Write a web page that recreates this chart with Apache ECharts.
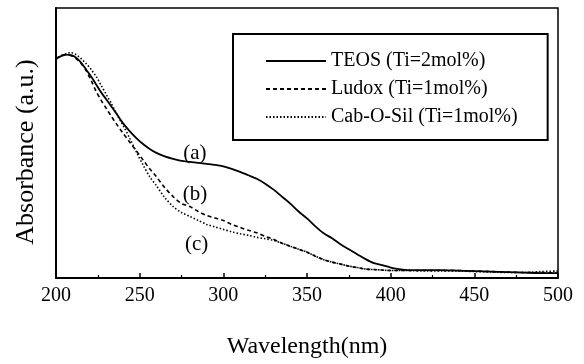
<!DOCTYPE html>
<html>
<head>
<meta charset="utf-8">
<script src="https://cdn.jsdelivr.net/npm/echarts@6/dist/echarts.min.js"></script>
<style>html,body{margin:0;padding:0;background:#fff}#c{width:584px;height:364px}</style>
</head>
<body>
<div id="c"></div>
<script>
const wavelengths = [200,203,206,209,212,215,218,221,224,227,230,233,236,240,244,248,252,256,260,265,270,275,280,285,290,295,300,305,310,315,320,325,330,335,340,345,350,355,360,365,370,375,380,385,390,395,400,405,410,420,430,440,450,460,470,480,490,500];
const teos = [221,223.5,225,224.5,222,217,210,203,195,187,180,173,166,156,148,141,135,130,126,122.5,120,118,117,116,115,114,112.5,110,107,103.5,100,95,89,82,75,67,60,52,45,40,34,29,24,19,15,13,10.5,9,8,8,8,7.5,7,6.5,6,5.5,5,5];
const ludox = [221,223.5,225,224,221,216,209,199,188,179,171,163,155.5,146,137,128,119,110,102,91,82,75,72,67,63,60.5,58,54,51,48,45.5,42,39,35,32,29,26,22,18.5,16,14,12,10.5,9,8.5,8,7.5,7.5,7.5,7.5,7.5,7.5,7,6.5,6,5.5,5.5,5];
const cabosil = [220,224,226,227,225,221,216,210,203,194,185,176,166,154,141,127,114,102,93,81,72,66,62,58,54,51.5,49,46.5,44.5,43,41,39.5,38,35,32,29,26,22,18.5,16,14,12,10.5,9,8.5,8,7.5,7.5,7.5,7,7,7,6.5,6,5.5,5.5,6.5,7];
const seriesNames = ['TEOS (Ti=2mol%)','Ludox (Ti=1mol%)','Cab-O-Sil (Ti=1mol%)'];
const curveLabels = [['(a)',283,125],['(b)',283,84],['(c)',284,34]];
const xTicks = {min:200,max:500,interval:50};

const FONT = '"Liberation Serif","DejaVu Serif",serif';
function pts(arr){return wavelengths.map((w,i)=>[w,arr[i]]);}
function mk(idx){
  const l = curveLabels[idx];
  return {symbol:'circle',symbolSize:1,silent:true,
    itemStyle:{color:'rgba(0,0,0,0)'},
    label:{show:true,position:'inside',formatter:l[0],fontFamily:FONT,fontSize:21,color:'#000'},
    data:[{coord:[l[1],l[2]],value:0}]};
}
const styles = [
  {type:'solid',width:1.8},
  {type:[4,3],width:1.6},
  {type:[1.5,2],width:1.6}
];
const chart = echarts.init(document.getElementById('c'),null,{renderer:'canvas'});
chart.setOption({
  animation:false,
  backgroundColor:'#fff',
  grid:{left:56,right:26,top:8,bottom:84,show:true,borderColor:'#000',borderWidth:1.5},
  legend:{
    orient:'vertical',left:233,top:34,
    padding:[17,30,13,32],
    itemWidth:60,itemHeight:20,itemGap:8,
    borderColor:'#000',borderWidth:2,
    itemStyle:{opacity:0},
    textStyle:{fontFamily:FONT,fontSize:20,color:'#000'},
    data:seriesNames
  },
  xAxis:{
    type:'value',min:xTicks.min,max:xTicks.max,interval:xTicks.interval,
    name:'Wavelength(nm)',nameLocation:'middle',nameGap:57,
    nameTextStyle:{fontFamily:FONT,fontSize:24,color:'#000'},
    axisLine:{lineStyle:{color:'#000',width:2}},
    axisTick:{inside:true,length:5,lineStyle:{color:'#000',width:1.5}},
    minorTick:{show:true,splitNumber:2,length:3,lineStyle:{color:'#000',width:1.2}},
    axisLabel:{fontFamily:FONT,fontSize:20,color:'#000',margin:8},
    splitLine:{show:false}
  },
  yAxis:{
    type:'value',min:0,max:272,
    name:'Absorbance (a.u.)',nameLocation:'middle',nameGap:17,
    nameTextStyle:{fontFamily:FONT,fontSize:26,color:'#000',padding:[0,18,0,0]},
    axisLine:{show:true,lineStyle:{color:'#000',width:2}},
    axisTick:{show:false},axisLabel:{show:false},splitLine:{show:false}
  },
  series:[0,1,2].map(i=>({
    name:seriesNames[i],type:'line',showSymbol:false,symbol:'none',smooth:0.3,
    data:pts([teos,ludox,cabosil][i]),
    lineStyle:Object.assign({color:'#000'},styles[i]),
    itemStyle:{color:'#000'},
    markPoint:mk(i)
  }))
});
</script>
</body>
</html>
